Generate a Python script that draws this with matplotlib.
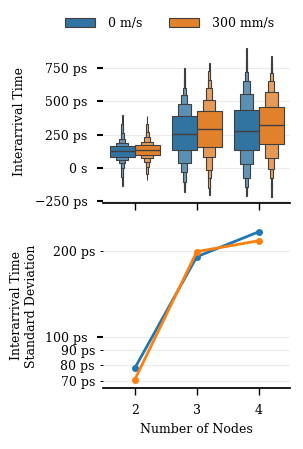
import matplotlib
matplotlib.use("Agg")
import matplotlib.pyplot as plt
from matplotlib.ticker import EngFormatter, FixedLocator, NullFormatter
from matplotlib.patches import Patch
import matplotlib.colors as mcolors
import numpy as np

# ---------------- data (picoseconds) ----------------
nodes = [2, 3, 4]
speeds = ["0 m/s", "300 mm/s"]

# letter-value boxes, innermost (IQR) to outermost, per node count
median_0 = [126, 257, 279]
lower_0 = [[83, 60, 33, -5, -70, -136],
           [131, 33, -35, -106, -150, -181],
           [134, 28, -80, -143, -190, -215]]
upper_0 = [[164, 186, 216, 260, 330, 398],
           [390, 479, 549, 600, 680, 750],
           [438, 554, 657, 725, 820, 901]]

median_300 = [131, 291, 322]
lower_300 = [[96, 75, 45, 8, -45, -93],
             [160, 83, -17, -80, -150, -204],
             [180, 71, -12, -80, -160, -221]]
upper_300 = [[171, 196, 229, 272, 330, 390],
             [425, 511, 600, 662, 730, 790],
             [461, 574, 657, 713, 790, 847]]

# standard deviation of interarrival time (ps)
std_0 = [77.6, 190.3, 232.6]
std_300 = [70.7, 198.2, 216.4]

# ---------------- style ----------------
plt.rcParams['font.family'] = ['DejaVu Serif']
plt.rcParams['font.size'] = 9
plt.rcParams['axes.unicode_minus'] = True

box_colors = ["#3274a1", "#e1812c"]
line_colors = ["#1f77b4", "#ff7f0e"]
edge = "#3f3f3f"
grid_c = "#ebebeb"
PS = 1e-12

fig = plt.figure(figsize=(3.03, 4.49), dpi=100)
ax1 = fig.add_axes([103/303, (449-202.7)/449, 187/303, 162.7/449])
ax2 = fig.add_axes([103/303, (449-387.7)/449, 187/303, 163.4/449])


def lighten(c, f):
    r = np.array(mcolors.to_rgb(c))
    return tuple(r + (1 - r) * f)


mix = [0.0, 0.2, 0.24, 0.28, 0.32, 0.36]
series = [(median_0, lower_0, upper_0), (median_300, lower_300, upper_300)]
offsets = [-0.2, 0.2]
for h, (med, lo, hi) in enumerate(series):
    for g, x in enumerate(nodes):
        xc = x + offsets[h]
        nlev = len(lo[g])
        for i in reversed(range(nlev)):
            w = 0.4 * 0.5 ** i
            b = lo[g][i] * PS
            t = hi[g][i] * PS
            ax1.bar(xc, t - b, bottom=b, width=w,
                    color=lighten(box_colors[h], mix[i]),
                    edgecolor=edge, linewidth=0.8, zorder=3 + (nlev - i) * 0.01)
        ax1.plot([xc - 0.2, xc + 0.2], [med[g] * PS, med[g] * PS],
                 color=edge, lw=1.0, zorder=4, solid_capstyle='butt')

ax1.set_xlim(1.49, 4.5)
ax1.set_ylim(-264 * PS, 964 * PS)
ax1.set_yticks(np.array([-250, 0, 250, 500, 750]) * PS)
ax1.yaxis.set_major_formatter(EngFormatter(unit='s'))
ax1.set_xticks(nodes)
ax1.tick_params(axis='x', labelbottom=False)
ax1.set_ylabel("Interarrival Time")
ax1.yaxis.set_label_coords(-0.41, 0.5)
ax1.yaxis.grid(True, color=grid_c, lw=0.8, zorder=0)
ax1.set_axisbelow(True)

# ---------------- bottom ----------------
for h, vals in enumerate([std_0, std_300]):
    ax2.plot(nodes, np.array(vals) * PS, color=line_colors[h], lw=2,
             marker='o', markersize=4, zorder=3)
ax2.set_yscale('log')
ax2.set_xlim(1.49, 4.5)
ax2.set_ylim(66.4 * PS, 246.9 * PS)
ax2.yaxis.set_major_locator(FixedLocator([100 * PS]))
ax2.yaxis.set_minor_locator(FixedLocator(np.array([70, 80, 90, 200]) * PS))
ax2.yaxis.set_major_formatter(EngFormatter(unit='s'))
ax2.yaxis.set_minor_formatter(EngFormatter(unit='s'))
ax2.set_xticks(nodes)
ax2.set_xticklabels([str(n) for n in nodes])
ax2.set_xlabel("Number of Nodes")
ax2.set_ylabel("Interarrival Time\nStandard Deviation")
ax2.yaxis.set_label_coords(-0.345, 0.5)
ax2.yaxis.grid(True, which='both', color=grid_c, lw=0.8, zorder=0)
ax2.set_axisbelow(True)

for ax in (ax1, ax2):
    for s in ('left', 'top', 'right'):
        ax.spines[s].set_visible(False)
    ax.spines['bottom'].set_linewidth(1.25)
    ax.tick_params(axis='y', which='major', length=4.1, width=1.5, pad=7)
    ax.tick_params(axis='y', which='minor', length=2.2, width=0.7, pad=3.6)
    ax.tick_params(axis='x', which='major', length=5, width=1.0, pad=7)
    ax.tick_params(axis='x', which='minor', length=0)

handles = [Patch(facecolor=box_colors[i], edgecolor=edge, linewidth=0.8, label=speeds[i])
           for i in range(2)]
fig.legend(handles=handles, loc='center', bbox_to_anchor=(169.5/303, 1 - 23.3/449),
           ncol=2, frameon=False, handlelength=2.4, handletextpad=1.0,
           columnspacing=2.2, fontsize=9)

fig.savefig("out.png", dpi=100)
